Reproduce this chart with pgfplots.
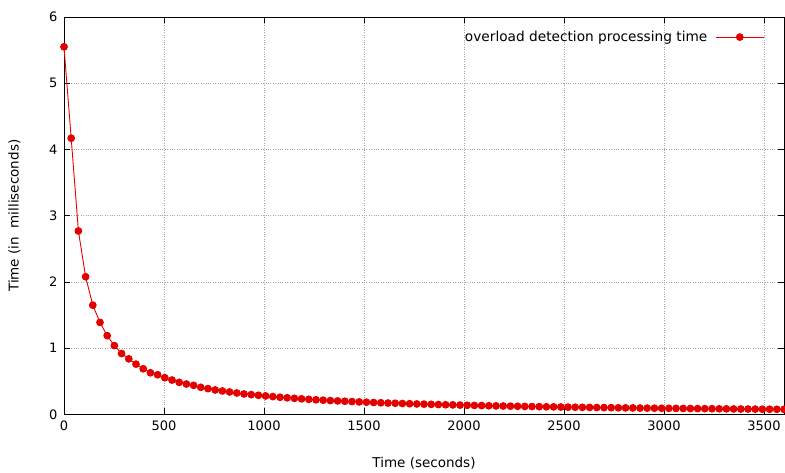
\documentclass[border=0pt]{standalone}
\usepackage{fontspec}
\setmainfont{DejaVu Sans}
\usepackage{pgfplots}
\pgfplotsset{compat=1.18}
\definecolor{gpred}{RGB}{228,0,0}

\pgfplotstableread{
t y
0 5.55
36 4.17
72 2.77
108 2.08
144 1.65
180 1.39
216 1.19
252 1.04
288 0.92
324 0.84
360 0.76
396 0.69
432 0.63
468 0.60
504 0.555
540 0.52
576 0.485
612 0.46
648 0.44
684 0.41
720 0.39
756 0.37
792 0.355
828 0.34
864 0.325
900 0.31
936 0.30
972 0.29
1008 0.28
1044 0.27
1080 0.26
1116 0.252
1152 0.244
1188 0.236
1224 0.229
1260 0.222
1296 0.216
1332 0.21
1368 0.205
1404 0.20
1440 0.195
1476 0.19
1512 0.186
1548 0.181
1584 0.177
1620 0.173
1656 0.17
1692 0.166
1728 0.163
1764 0.159
1800 0.156
1836 0.153
1872 0.15
1908 0.147
1944 0.145
1980 0.142
2016 0.139
2052 0.137
2088 0.135
2124 0.132
2160 0.13
2196 0.128
2232 0.126
2268 0.124
2304 0.122
2340 0.12
2376 0.118
2412 0.116
2448 0.115
2484 0.113
2520 0.111
2556 0.11
2592 0.108
2628 0.107
2664 0.105
2700 0.104
2736 0.103
2772 0.101
2808 0.10
2844 0.099
2880 0.097
2916 0.096
2952 0.095
2988 0.094
3024 0.093
3060 0.092
3096 0.091
3132 0.09
3168 0.089
3204 0.088
3240 0.087
3276 0.086
3312 0.085
3348 0.084
3384 0.083
3420 0.082
3456 0.081
3492 0.08
3528 0.08
3564 0.079
3600 0.078
}\loadtime

\begin{document}
\begin{tikzpicture}
\begin{axis}[
    scale only axis,
    width=720pt, height=397.5pt,
    xmin=0, xmax=3600, ymin=0, ymax=6,
    xtick={0,500,...,3500},
    ytick={0,1,...,6},
    tick align=inside,
    major tick length=6pt,
    tick style={black, line width=0.8pt},
    axis line style={black, line width=0.8pt},
    grid=major,
    grid style={gray!70, dotted, line width=0.8pt},
    ticklabel style={font=\fontsize{13}{15}\selectfont},
    /pgf/number format/assume math mode=true,
    /pgf/number format/1000 sep={},
    xticklabel style={yshift=-3pt},
    yticklabel style={xshift=-3pt},
    xlabel={Time (seconds)},
    ylabel={Time (in \ milliseconds)},
    label style={font=\fontsize{13.5}{15}\selectfont},
    xlabel style={yshift=-20pt},
    ylabel style={yshift=22pt},
    legend style={at={(0.977,0.975)}, anchor=north east, draw=none, fill=none,
        font=\fontsize{13.7}{15}\selectfont},
    legend plot pos=right,
    legend cell align=right,
    legend image code/.code={%
        \path (0pt,0pt);
        \draw[mark repeat=2, mark phase=2] plot coordinates {(6pt,0pt) (30pt,0pt) (54pt,0pt)};},
]
\addplot[gpred, line width=0.9pt, mark=*, mark size=3.4pt, mark options={fill=gpred, draw=gpred}] table[x=t, y=y] {\loadtime};
\addlegendentry{overload detection processing time}
\end{axis}
\pgfresetboundingbox
\useasboundingbox (current axis.south west) ++(-64pt,-58.5pt) rectangle ++(785pt,473pt);
\end{tikzpicture}
\end{document}
